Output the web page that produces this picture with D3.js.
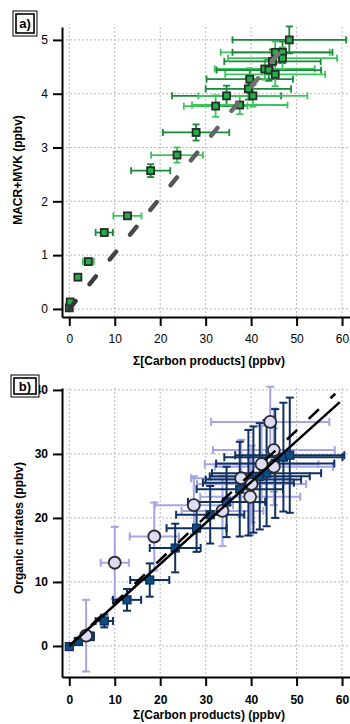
<!DOCTYPE html>
<html>
<head>
<meta charset="utf-8">
<script src="https://cdn.jsdelivr.net/npm/d3@7"></script>
<style>
  body { margin: 0; background: #fff; }
  svg { display: block; font-family: "Liberation Sans", Arial, sans-serif; }
</style>
</head>
<body>
<svg id="chart" width="350" height="724"></svg>
<script>
// ---- panel a : MACR+MVK vs carbon products
var carbonA    = [0, 0.2, 1.9, 4.2, 7.7, 12.8, 17.9, 23.7, 27.9, 32.2, 34.6, 37.5, 39.4, 40.4, 39.7, 43.0, 43.9, 45.3, 44.7, 45.3, 46.9, 46.9, 48.4];
var macrMvk    = [0.02, 0.13, 0.59, 0.88, 1.42, 1.73, 2.57, 2.86, 3.28, 3.77, 3.96, 3.79, 4.09, 3.96, 4.27, 4.46, 4.44, 4.36, 4.60, 4.77, 4.77, 4.66, 5.0];
var carbonAErr = [0.3, 0.4, 0.5, 1.2, 1.9, 3.1, 4.3, 5.7, 7.3, 7, 12, 10.5, 9.4, 12, 9.5, 11, 11.5, 11, 10.6, 12, 11, 12, 12.5];
var macrMvkErr = [0.02, 0.03, 0.03, 0.04, 0.04, 0.05, 0.12, 0.14, 0.15, 0.2, 0.19, 0.17, 0.2, 0.2, 0.2, 0.2, 0.2, 0.22, 0.22, 0.2, 0.2, 0.2, 0.25];
var lineA = [[0, 0], [47, 4.85]];

// ---- panel b : organic nitrates vs carbon products
var carbonNavy    = [0, 2.0, 4.6, 7.7, 12.7, 17.7, 23.3, 28.0, 31.0, 34.6, 37.5, 39.4, 40.5, 41.9, 43.4, 45.3, 47.1, 48.5];
var nitrateNavy   = [-0.1, 0.7, 1.5, 3.9, 7.2, 10.3, 15.3, 18.4, 20.5, 22.5, 24.5, 25.5, 26.0, 26.5, 27.0, 28.5, 29.5, 29.8];
var carbonNavyErr = [0.3, 0.6, 0.8, 1.9, 3.1, 4.3, 5.6, 6.6, 7.5, 8.5, 9.5, 10, 10.5, 11, 12, 13, 13, 12];
var nitNavyErr    = [0.3, 0.4, 0.6, 1.0, 1.7, 2.6, 3.8, 3.7, 4.5, 5.5, 7.4, 8.25, 8.3, 8.3, 8.3, 8.5, 8.5, 9];

var carbonLav    = [3.7, 10.0, 18.7, 27.4, 33.7, 37.8, 40.1, 39.8, 42.3, 45.0, 45.0, 44.2];
var nitrateLav   = [1.6, 13.0, 17.1, 22.0, 21.1, 26.2, 25.3, 23.3, 28.4, 30.6, 28.0, 35.0];
var carbonLavErr = [1.0, 3.1, 5.4, 8.6, 9, 11, 12, 11, 12.5, 13.4, 13, 13];
var nitLavErr    = [5.6, 5.6, 5.3, 4.5, 5.5, 6, 6, 6, 6, 6.5, 6, 5.5];

var lineBSolid  = [[0, 0], [59.5, 38.1]];
var lineBDashed = [[0, 0], [58.5, 39.4]];

var xTicks  = [0, 10, 20, 30, 40, 50, 60];
var yTicksA = [0, 1, 2, 3, 4, 5];
var yTicksB = [0, 10, 20, 30, 40];

var svg = d3.select("#chart");
var left = 62, right = 350;

function toPoints(xs, ys, xe, ye) {
  return xs.map(function (v, i) {
    return {x: v, y: ys[i], xe: xe[i], ye: ye[i]};
  });
}

function drawFrame(cfg) {
  var g = svg.append("g");
  var x = d3.scaleLinear().domain([-1.6, 61.75]).range([left, right]);
  var y = d3.scaleLinear().domain(cfg.yDomain).range([cfg.bottom, cfg.top]);

  // dotted grid
  g.append("g").selectAll("line").data(xTicks).enter().append("line")
    .attr("x1", d => x(d)).attr("x2", d => x(d))
    .attr("y1", cfg.top).attr("y2", cfg.bottom)
    .attr("stroke", "#b8b8b8").attr("stroke-width", 1).attr("stroke-dasharray", "2,2");
  g.append("g").selectAll("line").data(cfg.yTicks).enter().append("line")
    .attr("x1", left).attr("x2", right)
    .attr("y1", d => y(d)).attr("y2", d => y(d))
    .attr("stroke", "#b8b8b8").attr("stroke-width", 1).attr("stroke-dasharray", "2,2");

  var weight = cfg.boldTicks ? "bold" : "normal";

  var xAxis = g.append("g").attr("transform", "translate(0," + cfg.bottom + ")")
    .call(d3.axisBottom(x).tickValues(xTicks).tickFormat(d3.format("d"))
      .tickSize(9).tickSizeOuter(0).tickPadding(cfg.xPad));
  var yAxis = g.append("g").attr("transform", "translate(" + left + ",0)")
    .call(d3.axisLeft(y).tickValues(cfg.yTicks).tickFormat(d3.format("d"))
      .tickSize(9).tickSizeOuter(0).tickPadding(5));

  [xAxis, yAxis].forEach(function (a) {
    a.select(".domain").attr("stroke", "#000").attr("stroke-width", 2);
    a.selectAll(".tick line").attr("stroke", "#000").attr("stroke-width", 2);
    a.selectAll(".tick text").attr("fill", "#000")
      .style("font-size", "12px").style("font-weight", weight)
      .style("font-family", "'Liberation Sans', Arial, sans-serif");
  });

  // axis titles
  svg.append("text")
    .attr("x", 209).attr("y", cfg.xTitleY)
    .attr("text-anchor", "middle")
    .style("font-size", "12px").style("font-weight", "bold")
    .text(cfg.xTitle);
  svg.append("text")
    .attr("transform", "translate(" + cfg.yTitleX + "," + cfg.yTitleY + ") rotate(-90)")
    .attr("text-anchor", "middle")
    .style("font-size", "12px").style("font-weight", "bold")
    .text(cfg.yTitle);

  return {x: x, y: y, g: g};
}

function panelLabel(txt, bx, by, bw, bh) {
  var lg = svg.append("g");
  lg.append("rect").attr("x", bx).attr("y", by).attr("width", bw).attr("height", bh)
    .attr("fill", "#fff").attr("stroke", "#000").attr("stroke-width", 1);
  lg.append("rect").attr("x", bx + 3).attr("y", by + 3).attr("width", bw - 6).attr("height", bh - 6)
    .attr("fill", "none").attr("stroke", "#000").attr("stroke-width", 1.6);
  lg.append("text").attr("x", bx + bw / 2).attr("y", by + bh / 2 + 4.5)
    .attr("text-anchor", "middle")
    .style("font-size", "13px").style("font-weight", "bold")
    .text(txt);
}

function errorBars(g, pts, x, y, colorFn, cap, sw) {
  var eb = g.append("g").selectAll("g").data(pts).enter().append("g")
    .attr("stroke", (d, i) => colorFn(i)).attr("stroke-width", sw).attr("fill", "none");
  eb.append("line")
    .attr("x1", d => x(d.x - d.xe)).attr("x2", d => x(d.x + d.xe))
    .attr("y1", d => y(d.y)).attr("y2", d => y(d.y));
  eb.append("line")
    .attr("x1", d => x(d.x - d.xe)).attr("x2", d => x(d.x - d.xe))
    .attr("y1", d => y(d.y) - cap).attr("y2", d => y(d.y) + cap);
  eb.append("line")
    .attr("x1", d => x(d.x + d.xe)).attr("x2", d => x(d.x + d.xe))
    .attr("y1", d => y(d.y) - cap).attr("y2", d => y(d.y) + cap);
  eb.append("line")
    .attr("x1", d => x(d.x)).attr("x2", d => x(d.x))
    .attr("y1", d => y(d.y - d.ye)).attr("y2", d => y(d.y + d.ye));
  eb.append("line")
    .attr("x1", d => x(d.x) - cap).attr("x2", d => x(d.x) + cap)
    .attr("y1", d => y(d.y - d.ye)).attr("y2", d => y(d.y - d.ye));
  eb.append("line")
    .attr("x1", d => x(d.x) - cap).attr("x2", d => x(d.x) + cap)
    .attr("y1", d => y(d.y + d.ye)).attr("y2", d => y(d.y + d.ye));
}

// ================= panel a
var pa = drawFrame({
  top: 27, bottom: 317, yDomain: [-0.15, 5.24], yTicks: yTicksA, boldTicks: false, xPad: 8,
  xTitle: "\u03A3[Carbon products] (ppbv)", yTitle: "MACR+MVK (ppbv)",
  xTitleY: 365, yTitleX: 22, yTitleY: 170
});
var ptsA = toPoints(carbonA, macrMvk, carbonAErr, macrMvkErr);
errorBars(pa.g, ptsA, pa.x, pa.y, i => (i % 2 ? "#3cc45c" : "#168a36"), 3.5, 1.8);

pa.g.append("g").selectAll("rect").data(ptsA).enter().append("rect")
  .attr("x", d => pa.x(d.x) - 3.5).attr("y", d => pa.y(d.y) - 3.5)
  .attr("width", 7).attr("height", 7)
  .attr("fill", "#1fb04a").attr("stroke", "#2a2a2a").attr("stroke-width", 1.8);

var grad = svg.append("defs").append("linearGradient")
  .attr("id", "greyFade").attr("gradientUnits", "userSpaceOnUse")
  .attr("x1", pa.x(lineA[0][0])).attr("y1", pa.y(lineA[0][1]))
  .attr("x2", pa.x(lineA[1][0])).attr("y2", pa.y(lineA[1][1]));
grad.append("stop").attr("offset", "0%").attr("stop-color", "#353535");
grad.append("stop").attr("offset", "100%").attr("stop-color", "#7a7a7a");

pa.g.append("path")
  .attr("d", d3.line().x(d => pa.x(d[0])).y(d => pa.y(d[1]))(lineA))
  .attr("fill", "none").attr("stroke", "url(#greyFade)")
  .attr("stroke-width", 4.5).attr("stroke-linecap", "round")
  .attr("stroke-dasharray", "10,22");

panelLabel("a)", 13, 11, 24, 25);

// ================= panel b
var pb = drawFrame({
  top: 388, bottom: 677, yDomain: [-4.85, 40.3], yTicks: yTicksB, boldTicks: true, xPad: 9,
  xTitle: "\u03A3(Carbon products) (ppbv)", yTitle: "Organic nitrates (ppbv)",
  xTitleY: 719, yTitleX: 23, yTitleY: 528
});

var ptsNavy = toPoints(carbonNavy, nitrateNavy, carbonNavyErr, nitNavyErr);
var ptsLav = toPoints(carbonLav, nitrateLav, carbonLavErr, nitLavErr);

errorBars(pb.g, ptsLav, pb.x, pb.y, () => "#a4a4e6", 4, 2);
errorBars(pb.g, ptsNavy, pb.x, pb.y, () => "#0f315f", 4, 2);

pb.g.append("g").selectAll("rect").data(ptsNavy).enter().append("rect")
  .attr("x", d => pb.x(d.x) - 4).attr("y", d => pb.y(d.y) - 4)
  .attr("width", 8).attr("height", 8)
  .attr("fill", "#0d4b82").attr("stroke", "#0a2b55").attr("stroke-width", 1.2);

pb.g.append("g").selectAll("circle").data(ptsLav).enter().append("circle")
  .attr("cx", d => pb.x(d.x)).attr("cy", d => pb.y(d.y)).attr("r", 6)
  .attr("fill", "#dcdcf6").attr("stroke", "#2b2b2b").attr("stroke-width", 1.8);

var lineB = d3.line().x(d => pb.x(d[0])).y(d => pb.y(d[1]));
pb.g.append("path").attr("d", lineB(lineBDashed))
  .attr("fill", "none").attr("stroke", "#000").attr("stroke-width", 2.5)
  .attr("stroke-dasharray", "14,16");
pb.g.append("path").attr("d", lineB(lineBSolid))
  .attr("fill", "none").attr("stroke", "#000").attr("stroke-width", 2.5);

// the label box sits over the first digit of the top tick, as in the original
panelLabel("b)", 11, 375, 28, 22);
</script>
</body>
</html>
